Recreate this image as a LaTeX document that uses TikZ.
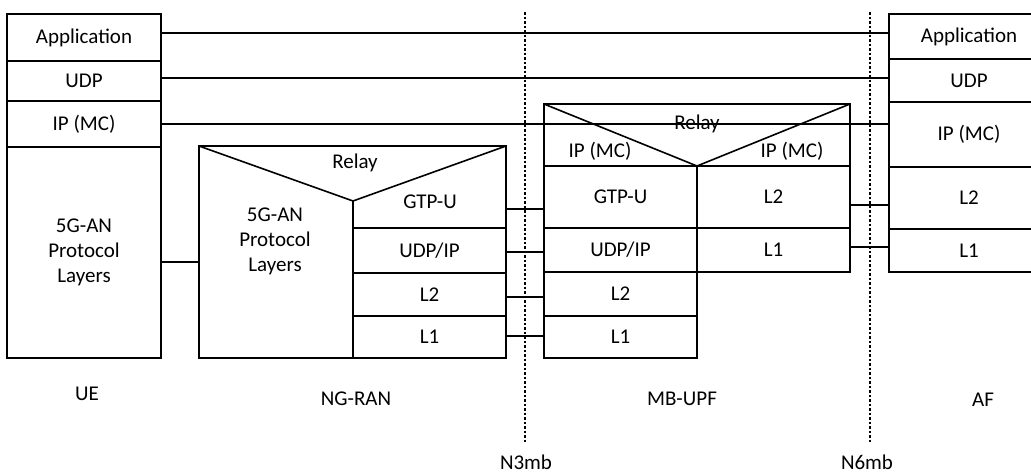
\documentclass[tikz,border=0pt]{standalone}
\usepackage{fontspec}
\setmainfont{Carlito}
\begin{document}
\begin{tikzpicture}[x=1pt,y=-1pt,
  every node/.style={font=\fontsize{21}{25}\selectfont, inner sep=0pt},
  ln/.style={line width=1.6pt},
  dotline/.style={line width=1.5pt, dash pattern=on 2.5pt off 2pt},
  cell/.style 2 args={draw, line width=1.6pt, outer sep=0pt, anchor=north west,
    minimum width=#1pt, minimum height=#2pt}]
\useasboundingbox (0,0) rectangle (1031,474);
\clip (0,0) rectangle (1031,474);

% UE stack
\node[cell={154}{47}] (ueApp) at (7,14) {Application};
\node[cell={154}{40}] (ueUDP) at (7,61) {UDP};
\node[cell={154}{46}] (ueIP) at (7,101) {IP (MC)};
\node[cell={154}{211}, align=center] (ueAN) at (7,147) {5G-AN\\Protocol\\Layers};

% NG-RAN
\node[cell={307}{212}] (ngBox) at (199,146) {};
\coordinate (ngApex) at (353,201);
\draw[ln] (ngBox.north west) -- (ngApex) -- (ngBox.north east);
\draw[ln] (ngApex) -- (ngApex |- ngBox.south);
\node[cell={153}{45}] (ngUDP) at (353,228) {UDP/IP};
\node[cell={153}{43}] (ngL2) at (353,273) {L2};
\node[cell={153}{42}] (ngL1) at (353,316) {L1};
\node (ngRelay) at (355,163) {Relay};
\node (ngGTP) at (430,202) {GTP-U};
\node[align=center] (ngAN) at (275,241) {5G-AN\\Protocol\\Layers};

% MB-UPF
\node[cell={306}{62}] (upfTop) at (544,104) {};
\coordinate (upfApex) at (697,166);
\draw[ln] (upfTop.north west) -- (upfApex) -- (upfTop.north east);
\node[cell={153}{62}] (upfGTP) at (544,166) {GTP-U};
\node[cell={153}{44}] (upfUDP) at (544,228) {UDP/IP};
\node[cell={153}{44}] (upfL2a) at (544,272) {L2};
\node[cell={153}{42}] (upfL1a) at (544,316) {L1};
\node[cell={153}{62}] (upfL2b) at (697,166) {L2};
\node[cell={153}{44}] (upfL1b) at (697,228) {L1};
\node (upfRelay) at (697,124) {Relay};
\node (upfIPl) at (600,151) {IP (MC)};
\node (upfIPr) at (792,151) {IP (MC)};

% AF stack
\node[cell={160}{45}] (afApp) at (889,14) {Application};
\node[cell={160}{43}] (afUDP) at (889,59) {UDP};
\node[cell={160}{65}] (afIP) at (889,102) {IP (MC)};
\node[cell={160}{62}] (afL2) at (889,167) {L2};
\node[cell={160}{43}] (afL1) at (889,229) {L1};

% connector heights
\coordinate (yApp) at (0,33);
\coordinate (yUDP) at (0,78);
\coordinate (yIP) at (0,124);
\coordinate (yAN) at (0,262);
\coordinate (yN3a) at (0,209);
\coordinate (yN3b) at (0,252);
\coordinate (yN3c) at (0,297);
\coordinate (yN3d) at (0,336);
\coordinate (yN6a) at (0,205);
\coordinate (yN6b) at (0,247);

\draw[ln] (ueApp.east |- yApp) -- (afApp.west |- yApp);
\draw[ln] (ueUDP.east |- yUDP) -- (afUDP.west |- yUDP);
\draw[ln] (ueIP.east |- yIP) -- (afIP.west |- yIP);
\draw[ln] (ueAN.east |- yAN) -- (ngBox.west |- yAN);
\draw[ln] (ngBox.east |- yN3a) -- (upfGTP.west |- yN3a);
\draw[ln] (ngUDP.east |- yN3b) -- (upfUDP.west |- yN3b);
\draw[ln] (ngL2.east |- yN3c) -- (upfL2a.west |- yN3c);
\draw[ln] (ngL1.east |- yN3d) -- (upfL1a.west |- yN3d);
\draw[ln] (upfL2b.east |- yN6a) -- (afL2.west |- yN6a);
\draw[ln] (upfL1b.east |- yN6b) -- (afL1.west |- yN6b);

% reference points
\coordinate (n3top) at (525,12);
\coordinate (n3bot) at (525,442);
\coordinate (n6top) at (870,12);
\coordinate (n6bot) at (870,442);
\draw[dotline] (n3top) -- (n3bot);
\draw[dotline] (n6top) -- (n6bot);
\node (n3lab) at (526,462) {N3mb};
\node (n6lab) at (867,462) {N6mb};

% entity labels
\node (labUE) at (87,394) {UE};
\node (labNG) at (356,399) {NG-RAN};
\node (labUPF) at (682,399) {MB-UPF};
\node (labAF) at (983,400) {AF};
\end{tikzpicture}
\end{document}
